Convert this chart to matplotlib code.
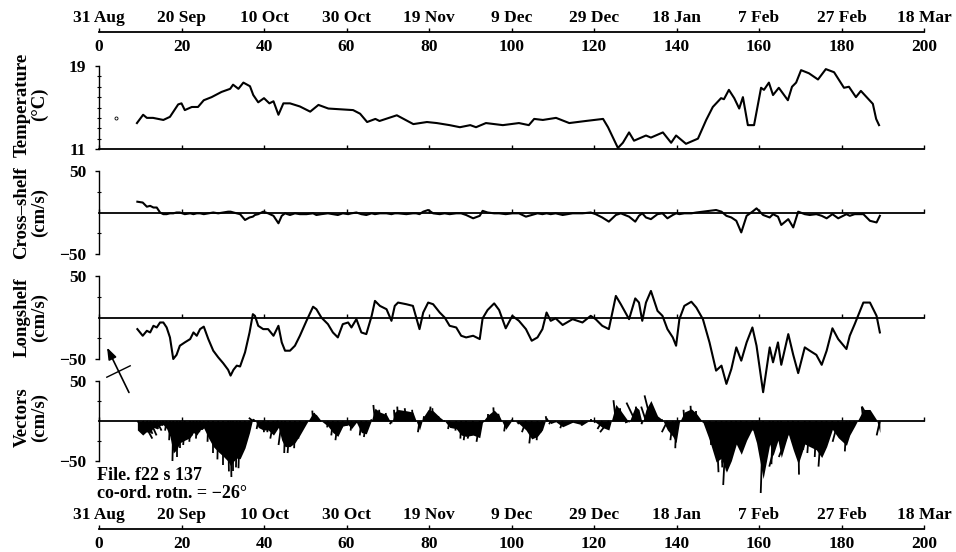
import numpy as np
import matplotlib
matplotlib.use("Agg")
import matplotlib.pyplot as plt
from matplotlib.collections import LineCollection
from matplotlib.patches import FancyArrowPatch
from matplotlib.lines import Line2D

plt.rcParams['font.family'] = ['Liberation Serif', 'DejaVu Serif']
plt.rcParams['font.weight'] = 'bold'

# ---- axis ticks -------------------------------------------------------
tick_days = [0, 20, 40, 60, 80, 100, 120, 140, 160, 180, 200]
tick_dates = ['31 Aug', '20 Sep', '10 Oct', '30 Oct', '19 Nov', '9 Dec',
              '29 Dec', '18 Jan', '7 Feb', '27 Feb', '18 Mar']

# ---- temperature record (deg C) ----------------------------------------
temp_day = [9.2, 10.7, 11.6, 13.1, 15.6, 17.2, 19.2, 20.0, 20.8, 22.5, 24.0,
            25.4, 27.3, 29.7, 31.8, 32.5, 33.8, 35.0, 36.6, 37.4, 38.6, 40.0,
            41.3, 42.3, 43.5, 44.7, 46.3, 48.7, 51.2, 53.2, 55.6, 61.6, 63.3,
            65.0, 67.0, 68.0, 72.2, 76.2, 79.5, 81.9, 85.0, 87.5, 90.0, 91.4,
            93.8, 97.9, 101.8, 104.2, 105.5, 107.6, 110.8, 114.0, 118.0, 122.2,
            123.4, 124.6, 125.8, 127.0, 128.5, 129.7, 132.6, 133.8, 136.7,
            138.7, 139.9, 142.3, 145.2, 147.2, 148.8, 150.8, 151.5, 152.7,
            154.0, 155.2, 156.1, 157.3, 158.8, 160.5, 161.2, 162.4, 163.4,
            164.8, 167.0, 168.0, 169.0, 170.2, 172.1, 174.3, 176.2, 178.2,
            180.6, 181.8, 183.5, 184.7, 187.6, 188.4, 189.1]
temp_c = [13.5, 14.3, 14.0, 14.0, 13.8, 14.1, 15.3, 15.4, 14.75, 15.05, 15.05,
          15.7, 16.0, 16.5, 16.8, 17.2, 16.8, 17.4, 17.05, 16.2, 15.5, 15.9,
          15.4, 15.6, 14.3, 15.4, 15.4, 15.1, 14.6, 15.25, 14.9, 14.75, 14.4,
          13.6, 13.9, 13.7, 14.25, 13.4, 13.6, 13.5, 13.3, 13.1, 13.3, 13.1,
          13.5, 13.3, 13.5, 13.3, 13.9, 13.8, 14.0, 13.5, 13.7, 13.9,
          13.1, 12.1, 11.1, 11.6, 12.6, 11.8, 12.3, 12.1, 12.6,
          11.6, 12.3, 11.5, 12.0, 13.8, 15.05, 15.9, 15.8, 16.7,
          15.9, 14.9, 16.0, 13.3, 13.3, 16.9, 16.7, 17.4, 16.2,
          16.9, 15.7, 17.0, 17.4, 18.6, 18.3, 17.7, 18.7, 18.4,
          16.9, 17.0, 16.0, 16.6, 15.35, 13.9, 13.3]
temp_spot_day = [4.0]
temp_spot_c = [14.0]

# ---- current components (cm/s), rotated frame --------------------------
cur_day = [9.3, 10.6, 11.6, 12.4, 13.2, 14.0, 14.8, 15.6, 16.4, 17.2, 18.0,
           18.8, 19.6, 20.8, 22.1, 22.9, 23.7, 24.5, 25.4, 26.5, 27.7, 28.9,
           30.1, 31.3, 31.9, 32.6, 33.4, 34.2, 35.4, 36.5, 37.3, 37.8, 38.6,
           39.8, 41.0, 42.3, 43.5, 44.3, 45.1, 46.3, 47.5, 48.7, 50.3, 51.9,
           52.7, 53.9, 55.5, 56.7, 57.9, 59.1, 60.4, 61.2, 62.4, 63.6, 64.8,
           66.1, 66.9, 68.1, 69.7, 70.9, 71.7, 72.5, 74.5, 76.1, 76.9, 77.7,
           78.6, 79.8, 81.0, 82.6, 83.8, 85.0, 86.6, 87.8, 89.0, 90.7, 92.3,
           93.0, 94.2, 95.8, 97.0, 98.6, 100.2, 101.8, 103.5, 104.9, 106.3,
           107.5, 108.5, 109.5, 110.7, 112.4, 114.8, 117.2, 119.2, 120.4,
           122.0, 123.6, 125.3, 126.5, 128.5, 130.0, 130.9, 131.7, 132.6,
           133.8, 135.4, 136.6, 137.8, 139.1, 139.9, 140.7, 141.9, 143.6,
           144.8, 146.4, 148.0, 149.6, 150.9, 152.1, 153.3, 154.5, 155.7,
           157.0, 158.4, 159.4, 161.0, 162.6, 163.4, 164.6, 165.4, 167.1,
           168.3, 169.5, 171.1, 172.3, 173.9, 175.2, 176.4, 177.8, 179.2,
           181.2, 182.0, 183.2, 185.3, 186.9, 188.5, 189.3]
longshelf = [-14, -22, -16, -18, -10, -12, -6, -6, -12, -24, -50,
             -45, -34, -30, -26, -18, -22, -14, -11, -26, -40, -48,
             -55, -63, -70, -63, -58, -59, -42, -18, 4, 2, -10,
             -14, -14, -22, -10, -30, -40, -40, -34, -22, -4, 13,
             10, 0, -8, -18, -24, -8, -6, -12, -2, -18, -20,
             2, 20, 14, 10, -4, 14, 18, 16, 14, 0, -14,
             6, 18, 16, 6, 0, -10, -12, -22, -24, -22, -26,
             -1, 9, 17, 9, -13, 2, -4, -14, -28, -24,
             -14, 6, -4, -1, -9, -2, -6, 2, -2,
             -10, -14, 26, 16, -2, 23, 18, -4, 18,
             32, 8, 2, -14, -24, -34, -2, 14, 19,
             12, -2, -30, -64, -58, -80, -62, -36, -52,
             -30, -12, -34, -90, -36, -54, -30, -57, -20,
             -45, -67, -36, -40, -45, -57, -40, -13, -26,
             -38, -22, -8, 18, 18, 2, -18]
crossshelf = [13, 12, 7, 8, 6, 6, 0, -2, -2, -1, -1,
              0, 0, -2, -1, -2, -1, -1, -2, -1, 0, -1,
              0, 1, 1, 0, -1, -2, -9, -6, -5, -3, -2,
              1, -1, -4, -13, -4, -1, -3, -1, -2, -2, -1,
              -3, -2, -1, -2, -3, -1, -2, -1, 0, -2, -3,
              -1, -2, -1, -1, -2, -1, -1, -2, -1, -1, -2,
              1, 3, -1, -2, -1, -2, -1, -1, -3, -7, -4,
              2, 0, -1, -1, -2, -1, -1, -5, -3, -1,
              -2, -1, -2, -1, -3, -1, -1, 0, -2,
              -6, -11, -3, -1, -5, -11, -4, -1, -6,
              -8, -2, -1, -7, -3, -1, -2, -1, -1,
              0, 1, 2, 3, 1, -4, -6, -10, -24,
              -4, 1, 5, -3, -6, -2, -5, -15, -8,
              -18, 1, -2, -3, -2, -4, -7, -2, -7,
              -2, -4, -2, -2, -10, -12, -4]

rotation_deg = -26
file_label = "File. f22 s 137"

# ---- layout (pixel based) ----------------------------------------------
W, H = 956, 552
X0, X1 = 99, 924


def rect(top_px, bot_px):
    return [X0 / W, 1 - bot_px / H, (X1 - X0) / W, (bot_px - top_px) / H]


fig = plt.figure(figsize=(W / 100, H / 100), dpi=100)

LW_AX = 1.0
LW_DATA = 1.5
TICK_FS = 12.5
LABEL_FS = 13.5


def style_panel(ax, ylo, yhi, minors, zero_spine=True):
    ax.set_xlim(0, 200)
    ax.set_ylim(ylo, yhi)
    ax.patch.set_visible(False)
    for s in ('top', 'right'):
        ax.spines[s].set_visible(False)
    ax.spines['left'].set_linewidth(LW_AX)
    ax.spines['bottom'].set_linewidth(1.3)
    if zero_spine:
        ax.spines['bottom'].set_position(('data', 0))
    ax.set_xticks(tick_days)
    ax.tick_params(axis='x', direction='in', length=3, width=1.0,
                   labelbottom=False)
    ax.set_yticks([ylo, yhi])
    ax.set_yticklabels([f"{ylo:g}".replace('-', '\u2212'), f"{yhi:g}"])
    ax.set_yticks(minors, minor=True)
    ax.tick_params(axis='y', which='major', direction='out', length=3,
                   width=1.0, pad=6, labelsize=TICK_FS)
    ax.tick_params(axis='y', which='minor', direction='inout', length=3,
                   width=0.8)


# Temperature
ax_t = fig.add_axes(rect(66, 149))
style_panel(ax_t, 11, 19, list(range(12, 19)), zero_spine=False)
ax_t.plot(temp_day, temp_c, color='black', lw=LW_DATA, clip_on=False)
ax_t.plot(temp_spot_day, temp_spot_c, 'o', color='black', ms=2.2,
          mfc='white', mew=0.6)

# Cross-shelf
ax_c = fig.add_axes(rect(171, 254))
style_panel(ax_c, -50, 50, [-25, 25])
ax_c.plot(cur_day, crossshelf, color='black', lw=LW_DATA, clip_on=False)

# Longshelf
ax_l = fig.add_axes(rect(276, 359))
style_panel(ax_l, -50, 50, [-25, 25])
ax_l.plot(cur_day, longshelf, color='black', lw=LW_DATA, clip_on=False)

# Vectors (stick plot, equal scaling of both components on screen)
ax_v = fig.add_axes(rect(381, 461))
style_panel(ax_v, -50, 50, [-25, 25])
d = np.asarray(cur_day, float)
u = np.asarray(crossshelf, float)
v = np.asarray(longshelf, float)
px_per_day = (X1 - X0) / 200.0
px_per_unit = (461 - 381) / 100.0
k = px_per_unit / px_per_day
tips_x = d + u * k
ax_v.fill_between(d, 0, v * 0.8, color='black', lw=0, clip_on=False)
segs = [[(di, 0.0), (xi, vi)] for di, xi, vi in zip(d, tips_x, v)]
ax_v.add_collection(LineCollection(segs, colors='black', linewidths=1.3,
                                   clip_on=False))

# ---- day / date axes ---------------------------------------------------
def time_axis(y_px):
    ax = fig.add_axes([X0 / W, 1 - y_px / H, (X1 - X0) / W, 1e-4])
    ax.patch.set_visible(False)
    ax.set_xlim(0, 200)
    ax.set_yticks([])
    for s in ('top', 'left', 'right'):
        ax.spines[s].set_visible(False)
    ax.spines['bottom'].set_linewidth(1.3)
    ax.set_xticks(tick_days)
    ax.set_xticklabels([str(t) for t in tick_days])
    ax.tick_params(axis='x', direction='in', length=3, width=1.0, pad=5,
                   labelsize=TICK_FS)
    sec = ax.secondary_xaxis('top')
    sec.set_xticks(tick_days)
    sec.set_xticklabels(tick_dates)
    sec.spines['top'].set_visible(False)
    sec.tick_params(axis='x', length=0, pad=4, labelsize=TICK_FS)
    return ax


time_axis(32)
time_axis(529)

# ---- panel labels --------------------------------------------------------
labels = [("Temperature\n(\u00b0C)", (66 + 149) / 2 - 3),
          ("Cross\u2013shelf\n(cm/s)", (171 + 254) / 2),
          ("Longshelf\n(cm/s)", (276 + 359) / 2),
          ("Vectors\n(cm/s)", (381 + 461) / 2 - 4)]
for txt, yc in labels:
    fig.text(31 / W, 1 - yc / H, txt, rotation=90, ha='center', va='center',
             multialignment='center', fontsize=LABEL_FS, linespacing=1.05)

# ---- file note -----------------------------------------------------------
fig.text(97 / W, 1 - 475 / H, file_label, ha='left', va='center',
         fontsize=13)
fig.text(97 / W, 1 - 494 / H,
         "co-ord. rotn. = " + f"{rotation_deg}".replace('-', '\u2212') + "\u00b0",
         ha='left', va='center', fontsize=13)

# ---- rotation indicator ------------------------------------------------
a = np.deg2rad(rotation_deg)
cx, cy = 118 / W, 1 - 370 / H
half = 25
ax_dir = np.array([np.sin(a), np.cos(a)])
head = (cx + ax_dir[0] * half / W, cy + ax_dir[1] * half / H)
tail = (cx - ax_dir[0] * half / W, cy - ax_dir[1] * half / H)
fig.add_artist(FancyArrowPatch(tail, head, transform=fig.transFigure,
                               arrowstyle='-|>,head_length=0.5,head_width=0.18',
                               mutation_scale=14, color='black', lw=1.2,
                               shrinkA=0, shrinkB=0))
perp = np.array([np.cos(a), -np.sin(a)])
bx, by = 118.5 / W, 1 - 371.5 / H
hb = 13
fig.add_artist(Line2D([bx - perp[0] * hb / W, bx + perp[0] * hb / W],
                      [by - perp[1] * hb / H, by + perp[1] * hb / H],
                      transform=fig.transFigure, color='black', lw=1.0))

fig.savefig("out.png", dpi=100)
